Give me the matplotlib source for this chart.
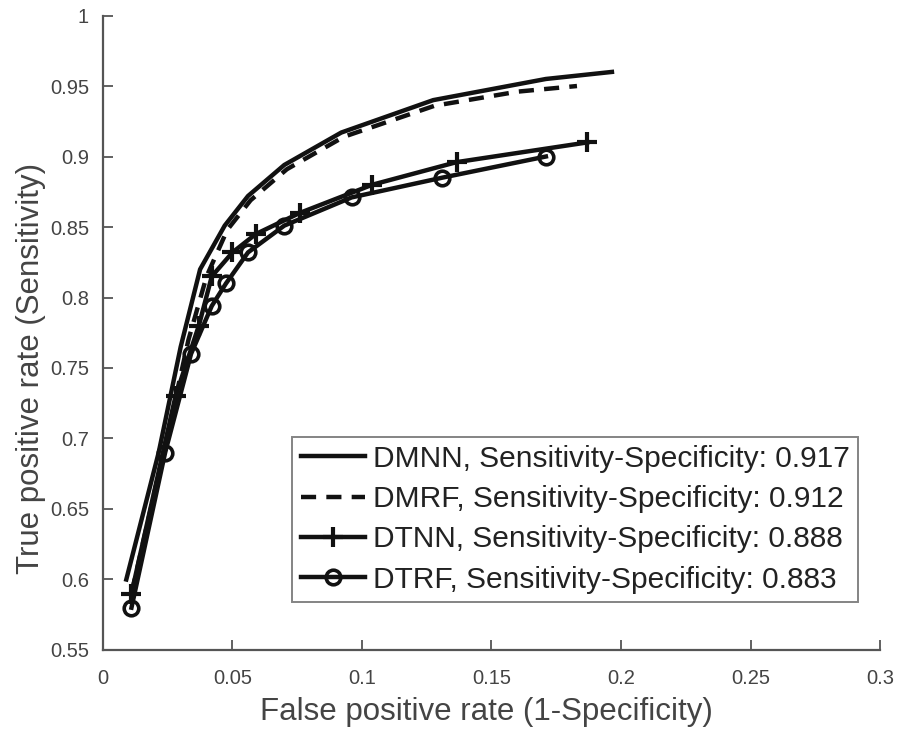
import matplotlib
matplotlib.use("Agg")
import matplotlib.pyplot as plt

plt.rcParams['font.family'] = ['Liberation Sans', 'DejaVu Sans']

dmnn_x = [0.009, 0.0215, 0.030, 0.0375, 0.047, 0.056, 0.070, 0.092, 0.1275, 0.171, 0.1965]
dmnn_y = [0.600, 0.690, 0.765, 0.820, 0.851, 0.872, 0.894, 0.917, 0.940, 0.955, 0.960]

dmrf_x = [0.011, 0.024, 0.033, 0.040, 0.048, 0.057, 0.071, 0.093, 0.128, 0.160, 0.183]
dmrf_y = [0.590, 0.695, 0.770, 0.815, 0.848, 0.869, 0.891, 0.914, 0.936, 0.946, 0.950]

dtnn_x = [0.011, 0.028, 0.037, 0.042, 0.050, 0.059, 0.076, 0.104, 0.1365, 0.187]
dtnn_y = [0.590, 0.730, 0.780, 0.815, 0.832, 0.845, 0.860, 0.880, 0.896, 0.910]

dtrf_x = [0.011, 0.024, 0.034, 0.042, 0.0475, 0.056, 0.070, 0.096, 0.131, 0.171]
dtrf_y = [0.580, 0.690, 0.760, 0.794, 0.810, 0.832, 0.851, 0.871, 0.885, 0.900]

labels = ["DMNN, Sensitivity-Specificity: 0.917",
          "DMRF, Sensitivity-Specificity: 0.912",
          "DTNN, Sensitivity-Specificity: 0.888",
          "DTRF, Sensitivity-Specificity: 0.883"]

x_ticks = [0, 0.05, 0.1, 0.15, 0.2, 0.25, 0.3]
x_ticklabels = ["0", "0.05", "0.1", "0.15", "0.2", "0.25", "0.3"]
y_ticks = [0.55, 0.6, 0.65, 0.7, 0.75, 0.8, 0.85, 0.9, 0.95, 1.0]
y_ticklabels = ["0.55", "0.6", "0.65", "0.7", "0.75", "0.8", "0.85", "0.9", "0.95", "1"]

fig = plt.figure(figsize=(9.01, 7.29), dpi=100)
ax = fig.add_axes([0.1143, 0.1084, 0.8624, 0.8703])

c = '#111111'
lw = 3.2
ax.plot(dmnn_x, dmnn_y, '-', color=c, lw=lw, label=labels[0])
ax.plot(dmrf_x, dmrf_y, '--', color=c, lw=lw, dashes=(3.4, 2.3), label=labels[1])
ax.plot(dtnn_x, dtnn_y, '-', color=c, lw=lw, marker='+', ms=15, mew=3, label=labels[2])
ax.plot(dtrf_x, dtrf_y, '-', color=c, lw=lw, marker='o', ms=10.5, mew=2.6, mfc='none', label=labels[3])

ax.set_xlim(0, 0.3)
ax.set_ylim(0.55, 1.0)
ax.set_xticks(x_ticks)
ax.set_xticklabels(x_ticklabels)
ax.set_yticks(y_ticks)
ax.set_yticklabels(y_ticklabels)

sc = '#555555'
for s in ['top', 'right']:
    ax.spines[s].set_visible(False)
for s in ['left', 'bottom']:
    ax.spines[s].set_color(sc)
    ax.spines[s].set_linewidth(1.6)
ax.tick_params(direction='in', length=7, width=1.3, colors=sc, labelcolor='#444444',
               labelsize=14.5)
ax.tick_params(axis='x', pad=14)
ax.tick_params(axis='y', pad=10)

ax.set_xlabel("False positive rate (1-Specificity)", fontsize=22.5, color='#444444')
ax.set_ylabel("True positive rate (Sensitivity)", fontsize=22.5, color='#444444')
ax.xaxis.set_label_coords(0.493, -0.074)
ax.yaxis.set_label_coords(-0.073, 0.444)

leg = ax.legend(loc='lower right', bbox_to_anchor=(0.9717, 0.0756), fontsize=21.5,
                frameon=True, fancybox=False, edgecolor='#666666', handlelength=2.14,
                handletextpad=0.27, borderpad=0.28, labelspacing=0.41, borderaxespad=0)
leg.get_frame().set_linewidth(1.4)
for t in leg.get_texts():
    t.set_color('#222222')

fig.savefig("out.png", dpi=100)
